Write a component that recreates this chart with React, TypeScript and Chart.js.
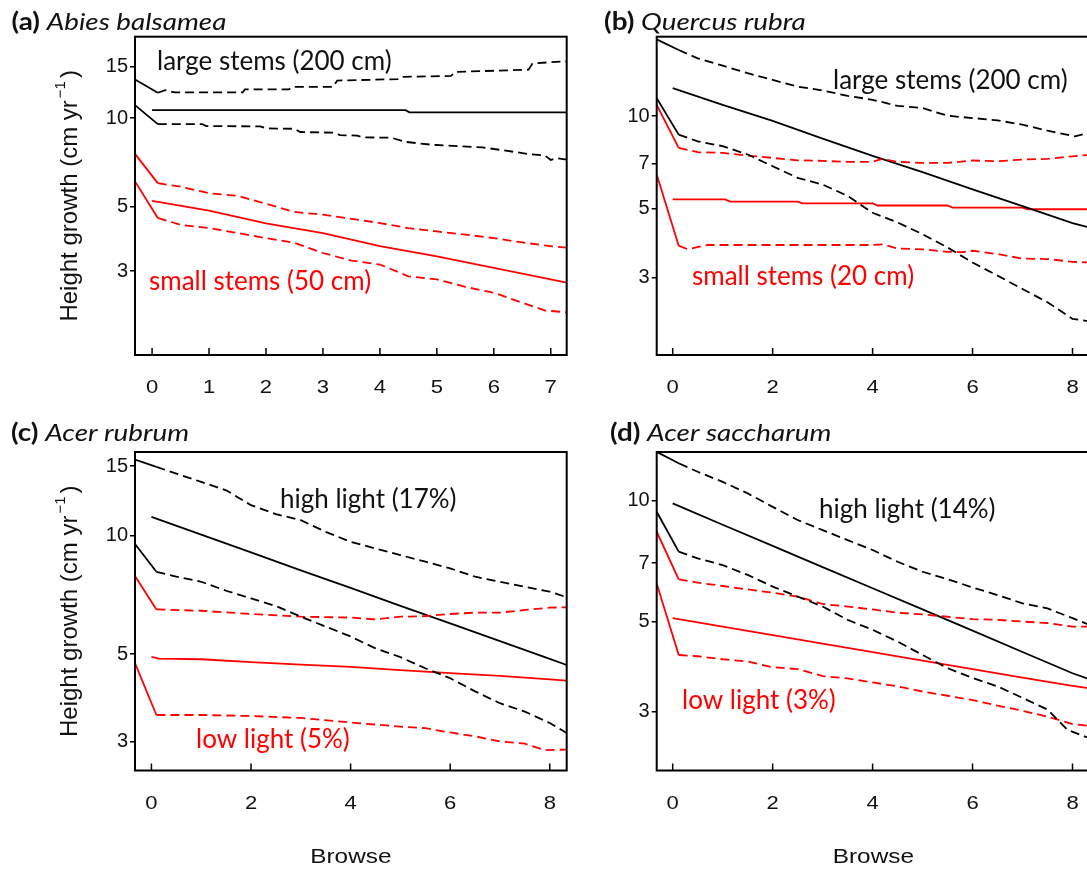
import React, { useEffect, useRef } from 'react';
import { Chart, registerables } from 'chart.js';

Chart.register(...registerables);

type Pt = [number, number];

// ---------------- data ----------------
const xTicksA = [0, 1, 2, 3, 4, 5, 6, 7];
const xTicksBCD = [0, 2, 4, 6, 8];
const yTicksAC = [3, 5, 10, 15];
const yTicksBD = [3, 5, 7, 10];

// (a) Abies balsamea
const aUpperBlack: Pt[] = [[-0.3, 13.56], [0.1, 12.22], [0.23, 12.47], [0.4, 12.25], [1.59, 12.25], [1.63, 12.54], [2.4, 12.54], [2.47, 12.8], [3.18, 12.8], [3.25, 13.45], [4.31, 13.6], [4.38, 13.85], [5.25, 13.95], [5.32, 14.4], [6.61, 14.65], [6.68, 15.4], [7.28, 15.66]];
const aMeanBlack: Pt[] = [[0, 10.66], [4.45, 10.66], [4.52, 10.47], [7.28, 10.47]];
const aLowerBlack: Pt[] = [[-0.3, 11.09], [0.1, 9.55], [0.88, 9.55], [0.95, 9.4], [1.9, 9.38], [2.0, 9.23], [2.5, 9.2], [2.6, 8.97], [3.2, 8.92], [3.3, 8.75], [3.6, 8.72], [3.7, 8.6], [4.2, 8.58], [4.45, 8.3], [4.9, 8.12], [5.0, 8.1], [5.8, 7.95], [6.1, 7.8], [6.6, 7.55], [6.9, 7.45], [7.0, 7.2], [7.1, 7.3], [7.28, 7.22]];
const aUpperRed: Pt[] = [[-0.3, 7.55], [0.1, 6.0], [0.5, 5.83], [1, 5.54], [1.5, 5.43], [2, 5.1], [2.5, 4.78], [3, 4.68], [3.5, 4.53], [4, 4.38], [4.5, 4.21], [5, 4.1], [5.5, 4.0], [6, 3.89], [6.5, 3.76], [7, 3.65], [7.28, 3.61]];
const aMeanRed: Pt[] = [[0, 5.22], [1, 4.83], [2, 4.37], [3, 4.05], [4, 3.65], [5, 3.37], [6, 3.08], [7, 2.81], [7.28, 2.74]];
const aLowerRed: Pt[] = [[-0.3, 6.08], [0.1, 4.56], [0.5, 4.32], [1, 4.21], [1.5, 4.05], [2, 3.89], [2.5, 3.75], [3, 3.46], [3.5, 3.26], [4, 3.16], [4.5, 2.88], [5, 2.81], [5.5, 2.65], [6, 2.53], [6.5, 2.34], [6.9, 2.2], [7.28, 2.17]];

// (b) Quercus rubra
const bUpperBlack: Pt[] = [[-0.32, 17.74], [0.12, 16.39], [0.5, 15.4], [1, 14.58], [1.5, 13.78], [2, 13.11], [2.5, 12.47], [3, 12.11], [3.5, 11.64], [4, 11.3], [4.5, 10.8], [5, 10.62], [5.5, 10.03], [6, 9.86], [6.5, 9.69], [7, 9.38], [7.5, 8.97], [8.05, 8.6], [8.35, 8.85]];
const bMeanBlack: Pt[] = [[0, 12.32], [1, 10.87], [2, 9.65], [3, 8.45], [4, 7.43], [5, 6.58], [6, 5.79], [7, 5.11], [8, 4.5], [8.35, 4.35]];
const bLowerBlack: Pt[] = [[-0.32, 11.44], [0.12, 8.71], [0.5, 8.29], [1, 7.99], [1.5, 7.51], [2, 6.88], [2.5, 6.31], [3, 6.0], [3.5, 5.51], [4, 4.86], [4.5, 4.52], [5, 4.14], [5.5, 3.75], [6, 3.35], [6.5, 3.04], [7, 2.75], [7.5, 2.49], [8, 2.2], [8.35, 2.16]];
const bUpperRed: Pt[] = [[-0.32, 10.88], [0.12, 7.89], [0.5, 7.64], [1, 7.6], [1.5, 7.45], [2, 7.32], [2.5, 7.19], [3, 7.16], [3.5, 7.11], [4, 7.11], [4.2, 7.27], [4.5, 7.11], [5, 7.05], [5.5, 7.05], [6, 7.18], [6.5, 7.14], [7, 7.23], [7.5, 7.27], [8, 7.41], [8.35, 7.49]];
const bMeanRed: Pt[] = [[0, 5.37], [1.05, 5.37], [1.15, 5.28], [2.5, 5.28], [2.6, 5.21], [4.0, 5.21], [4.1, 5.13], [5.5, 5.13], [5.6, 5.05], [7.0, 5.05], [7.1, 4.99], [8.35, 4.99]];
const bLowerRed: Pt[] = [[-0.32, 6.47], [0.12, 3.8], [0.3, 3.7], [0.7, 3.82], [4.0, 3.82], [4.2, 3.84], [4.5, 3.72], [5, 3.7], [5.5, 3.63], [5.8, 3.62], [6, 3.66], [6.5, 3.57], [7, 3.45], [7.5, 3.44], [8, 3.37], [8.35, 3.35]];

// (c) Acer rubrum
const cUpperBlack: Pt[] = [[-0.33, 15.59], [0.1, 14.94], [0.5, 14.37], [1, 13.68], [1.5, 13.03], [2, 11.94], [2.5, 11.33], [3, 10.94], [3.5, 10.22], [4, 9.64], [4.5, 9.27], [5, 8.92], [5.5, 8.58], [6, 8.25], [6.5, 7.86], [7, 7.63], [7.5, 7.41], [8, 7.2], [8.34, 6.97]];
const cMeanBlack: Pt[] = [[0, 11.15], [1, 10.05], [2, 9.06], [3, 8.16], [4, 7.36], [5, 6.63], [6, 5.98], [7, 5.39], [8, 4.86], [8.34, 4.69]];
const cLowerBlack: Pt[] = [[-0.33, 9.51], [0.1, 8.09], [0.5, 7.86], [1, 7.63], [1.5, 7.24], [2, 6.92], [2.5, 6.62], [3, 6.22], [3.5, 5.87], [4, 5.54], [4.5, 5.17], [5, 4.91], [5.5, 4.6], [6, 4.34], [6.5, 4.02], [7, 3.75], [7.5, 3.57], [8, 3.34], [8.34, 3.15]];
const cUpperRed: Pt[] = [[-0.33, 7.89], [0.1, 6.49], [1, 6.44], [2, 6.32], [3, 6.22], [4, 6.19], [4.5, 6.12], [5, 6.22], [5.5, 6.24], [6, 6.32], [6.5, 6.37], [7, 6.37], [7.5, 6.47], [8, 6.56], [8.34, 6.57]];
const cMeanRed: Pt[] = [[0, 4.92], [0.15, 4.87], [1, 4.85], [2, 4.77], [3, 4.7], [4, 4.64], [5, 4.55], [6, 4.47], [7, 4.4], [8, 4.31], [8.34, 4.28]];
const cLowerRed: Pt[] = [[-0.33, 4.74], [0.1, 3.5], [1, 3.5], [2, 3.48], [3, 3.44], [4, 3.35], [4.5, 3.31], [5, 3.27], [5.5, 3.24], [6, 3.16], [6.5, 3.09], [7, 3.0], [7.5, 2.96], [7.9, 2.85], [8.34, 2.86]];

// (d) Acer saccharum
const dUpperBlack: Pt[] = [[-0.32, 13.21], [0.13, 12.36], [0.5, 11.79], [1, 11.13], [1.5, 10.42], [2, 9.65], [2.5, 8.95], [3, 8.45], [3.5, 7.98], [4, 7.54], [4.5, 7.05], [5, 6.66], [5.5, 6.38], [6, 6.09], [6.5, 5.83], [7, 5.56], [7.5, 5.4], [8, 5.11], [8.35, 4.91]];
const dMeanBlack: Pt[] = [[0, 9.84], [1, 8.71], [2, 7.72], [3, 6.84], [4, 6.06], [5, 5.37], [6, 4.76], [7, 4.21], [8, 3.73], [8.35, 3.6]];
const dLowerBlack: Pt[] = [[-0.32, 9.38], [0.12, 7.47], [0.5, 7.19], [1, 6.92], [1.5, 6.54], [2, 6.12], [2.5, 5.78], [3, 5.46], [3.5, 5.06], [4, 4.78], [4.5, 4.47], [5, 4.14], [5.5, 3.84], [6, 3.63], [6.5, 3.46], [7, 3.24], [7.5, 3.03], [7.9, 2.7], [8.35, 2.57]];
const dUpperRed: Pt[] = [[-0.32, 8.37], [0.12, 6.38], [0.5, 6.26], [1, 6.14], [1.5, 6.02], [2, 5.91], [2.5, 5.78], [3, 5.54], [3.5, 5.46], [4, 5.37], [4.5, 5.27], [5, 5.22], [5.5, 5.15], [6, 5.08], [6.5, 5.06], [7, 5.01], [7.5, 4.97], [8, 4.87], [8.35, 4.87]];
const dMeanRed: Pt[] = [[0, 5.11], [1, 4.87], [2, 4.64], [3, 4.42], [4, 4.21], [5, 4.01], [6, 3.82], [7, 3.64], [8, 3.47], [8.35, 3.42]];
const dLowerRed: Pt[] = [[-0.32, 6.23], [0.12, 4.14], [0.5, 4.11], [1, 4.04], [1.5, 3.99], [2, 3.86], [2.5, 3.82], [3, 3.67], [3.5, 3.62], [4, 3.54], [4.5, 3.46], [5, 3.36], [5.5, 3.28], [6, 3.2], [6.5, 3.1], [7, 3.01], [7.5, 2.91], [8, 2.79], [8.35, 2.76]];

// ---------------- layout / style ----------------
const CW = 1110;
const CH = 869;
const YW = 50;
const XH = 40;
const BLACK = '#000000';
const RED = '#ff0000';
const INK = '#111111';
const SANS = '"Liberation Sans", Arial, sans-serif';
const CAL = 'Lato, "Open Sans", sans-serif';
const STRETCH = 1.16;

interface Note { text: string; color: string; x: number; y: number }
interface Panel {
  letter: string; species: string; titleX: number; titleY: number;
  area: { l: number; t: number; r: number; b: number };
  xMin: number; xMax: number; yMin: number; yMax: number;
  xTicks: number[]; yTicks: number[];
  bu: Pt[]; bm: Pt[]; bl: Pt[]; ru: Pt[]; rm: Pt[]; rl: Pt[];
  notes: Note[]; yTitle: boolean; xTitle: boolean;
}

const panels: Panel[] = [
  {
    letter: '(a)', species: 'Abies balsamea', titleX: 11.5, titleY: 30,
    area: { l: 135, t: 36.7, r: 566.7, b: 355 }, xMin: -0.3, xMax: 7.28, yMin: 1.55, yMax: 19.0,
    xTicks: xTicksA, yTicks: yTicksAC,
    bu: aUpperBlack, bm: aMeanBlack, bl: aLowerBlack, ru: aUpperRed, rm: aMeanRed, rl: aLowerRed,
    notes: [{ text: 'large stems (200 cm)', color: BLACK, x: 157, y: 70 }, { text: 'small stems (50 cm)', color: RED, x: 149, y: 290 }],
    yTitle: true, xTitle: false,
  },
  {
    letter: '(b)', species: 'Quercus rubra', titleX: 604, titleY: 30,
    area: { l: 656.7, t: 36.7, r: 1090, b: 355 }, xMin: -0.32, xMax: 8.35, yMin: 1.68, yMax: 18.1,
    xTicks: xTicksBCD, yTicks: yTicksBD,
    bu: bUpperBlack, bm: bMeanBlack, bl: bLowerBlack, ru: bUpperRed, rm: bMeanRed, rl: bLowerRed,
    notes: [{ text: 'large stems (200 cm)', color: BLACK, x: 833, y: 89 }, { text: 'small stems (20 cm)', color: RED, x: 692, y: 285 }],
    yTitle: false, xTitle: false,
  },
  {
    letter: '(c)', species: 'Acer rubrum', titleX: 11, titleY: 441,
    area: { l: 135, t: 452, r: 566.7, b: 770.5 }, xMin: -0.33, xMax: 8.34, yMin: 2.53, yMax: 16.3,
    xTicks: xTicksBCD, yTicks: yTicksAC,
    bu: cUpperBlack, bm: cMeanBlack, bl: cLowerBlack, ru: cUpperRed, rm: cMeanRed, rl: cLowerRed,
    notes: [{ text: 'high light (17%)', color: BLACK, x: 280, y: 508 }, { text: 'low light (5%)', color: RED, x: 196, y: 748 }],
    yTitle: true, xTitle: true,
  },
  {
    letter: '(d)', species: 'Acer saccharum', titleX: 610, titleY: 441,
    area: { l: 656.7, t: 452, r: 1090, b: 770.5 }, xMin: -0.32, xMax: 8.35, yMin: 2.14, yMax: 13.2,
    xTicks: xTicksBCD, yTicks: yTicksBD,
    bu: dUpperBlack, bm: dMeanBlack, bl: dLowerBlack, ru: dUpperRed, rm: dMeanRed, rl: dLowerRed,
    notes: [{ text: 'high light (14%)', color: BLACK, x: 819, y: 518 }, { text: 'low light (3%)', color: RED, x: 682, y: 709 }],
    yTitle: false, xTitle: true,
  },
];

// draw text horizontally stretched (the source figure is slightly widened)
function stretchedText(ctx: CanvasRenderingContext2D, text: string, x: number, y: number, sx: number) {
  ctx.save();
  ctx.translate(x, y);
  ctx.scale(sx, 1);
  ctx.fillText(text, 0, 0);
  ctx.restore();
}

function makeChart(canvas: HTMLCanvasElement, p: Panel) {
  const line = (pts: Pt[], color: string, dashed: boolean): any => ({
    data: pts.map(([x, y]) => ({ x, y })),
    borderColor: color,
    borderWidth: 1.8,
    pointRadius: 0,
    tension: 0,
    fill: false,
    segment: dashed ? { borderDash: (c: any) => (c.p0DataIndex === 0 ? [] : [9, 5]) } : undefined,
  });

  const decor = {
    id: 'decor',
    afterDraw(chart: any) {
      const ctx: CanvasRenderingContext2D = chart.ctx;
      const a = chart.chartArea;
      ctx.save();
      // frame
      ctx.strokeStyle = BLACK;
      ctx.lineWidth = 2;
      ctx.strokeRect(a.left, a.top, a.right - a.left, a.bottom - a.top);
      // inward x ticks and their labels (positions from the x scale)
      const xs = chart.scales.x;
      ctx.lineWidth = 1.5;
      ctx.beginPath();
      xs.ticks.forEach((t: any) => {
        const px = xs.getPixelForValue(t.value);
        ctx.moveTo(px, a.bottom);
        ctx.lineTo(px, a.bottom - 7);
      });
      ctx.stroke();
      ctx.fillStyle = INK;
      ctx.font = `19px ${SANS}`;
      ctx.textAlign = 'center';
      ctx.textBaseline = 'middle';
      xs.ticks.forEach((t: any) => {
        const px = xs.getPixelForValue(t.value);
        stretchedText(ctx, String(t.value), px, a.bottom + 33, STRETCH);
      });
      // panel title
      ctx.textBaseline = 'alphabetic';
      ctx.textAlign = 'left';
      ctx.font = `bold 24px ${CAL}`;
      const w = ctx.measureText(p.letter + ' ').width * STRETCH;
      stretchedText(ctx, p.letter, p.titleX, p.titleY, STRETCH);
      ctx.font = `italic 24px ${CAL}`;
      stretchedText(ctx, p.species, p.titleX + w, p.titleY, STRETCH);
      // annotations
      ctx.font = `26px ${CAL}`;
      p.notes.forEach((n) => {
        ctx.fillStyle = n.color === BLACK ? INK : RED;
        ctx.fillText(n.text, n.x, n.y);
      });
      // y title
      if (p.yTitle) {
        const cy = (a.top + a.bottom) / 2;
        ctx.save();
        ctx.translate(77, cy);
        ctx.rotate(-Math.PI / 2);
        ctx.fillStyle = INK;
        const main = 'Height growth (cm yr';
        const sup = '\u22121';
        ctx.font = `24px ${SANS}`;
        const wMain = ctx.measureText(main).width;
        const wClose = ctx.measureText(')').width;
        ctx.font = `15px ${SANS}`;
        const wSup = ctx.measureText(sup).width;
        const total = wMain + 2 + wSup + 3 + wClose;
        const s = -total / 2;
        ctx.font = `24px ${SANS}`;
        ctx.fillText(main, s, 0);
        ctx.fillText(')', s + wMain + 2 + wSup + 3, 0);
        ctx.font = `15px ${SANS}`;
        ctx.fillText(sup, s + wMain + 2, -12);
        ctx.restore();
      }
      if (p.xTitle) {
        ctx.font = `21px ${SANS}`;
        ctx.textAlign = 'center';
        ctx.textBaseline = 'middle';
        ctx.fillStyle = INK;
        stretchedText(ctx, 'Browse', (a.left + a.right) / 2, 857, STRETCH);
      }
      ctx.restore();
    },
  };

  return new Chart(canvas, {
    type: 'line',
    data: {
      datasets: [
        line(p.bu, BLACK, true),
        line(p.bl, BLACK, true),
        line(p.ru, RED, true),
        line(p.rl, RED, true),
        line(p.bm, BLACK, false),
        line(p.rm, RED, false),
      ],
    },
    options: {
      responsive: false,
      maintainAspectRatio: false,
      animation: false,
      events: [],
      layout: {
        padding: {
          left: p.area.l - YW,
          top: p.area.t,
          right: CW - p.area.r,
          bottom: CH - p.area.b - XH,
        },
      },
      plugins: { legend: { display: false }, tooltip: { enabled: false } },
      scales: {
        x: {
          type: 'linear',
          min: p.xMin,
          max: p.xMax,
          afterFit: (s: any) => { s.height = XH; },
          afterBuildTicks: (s: any) => { s.ticks = p.xTicks.map((v) => ({ value: v })); },
          grid: { display: false, drawTicks: false },
          border: { display: false },
          ticks: { display: false, autoSkip: false },
        },
        y: {
          type: 'logarithmic',
          min: p.yMin,
          max: p.yMax,
          afterFit: (s: any) => { s.width = YW; },
          afterBuildTicks: (s: any) => { s.ticks = p.yTicks.map((v) => ({ value: v })); },
          grid: { display: true, drawOnChartArea: false, drawTicks: true, tickLength: 5, color: BLACK, lineWidth: 1.5 },
          border: { display: false },
          ticks: {
            color: INK,
            font: { family: SANS, size: 20 },
            padding: 2,
            autoSkip: false,
            callback: (v: any) => String(v),
          },
        },
      },
    } as any,
    plugins: [decor],
  });
}

export default function App() {
  const refs = useRef<(HTMLCanvasElement | null)[]>([]);
  useEffect(() => {
    const charts = panels.map((p, i) => makeChart(refs.current[i] as HTMLCanvasElement, p));
    return () => charts.forEach((c) => c.destroy());
  }, []);
  return (
    <div style={{ position: 'absolute', left: 0, top: 0, width: 1087, height: 869, overflow: 'hidden', background: '#fff' }}>
      {panels.map((p, i) => (
        <canvas
          key={p.letter}
          ref={(el) => { refs.current[i] = el; }}
          width={CW}
          height={CH}
          style={{ position: 'absolute', left: 0, top: 0, width: CW, height: CH }}
        />
      ))}
    </div>
  );
}
